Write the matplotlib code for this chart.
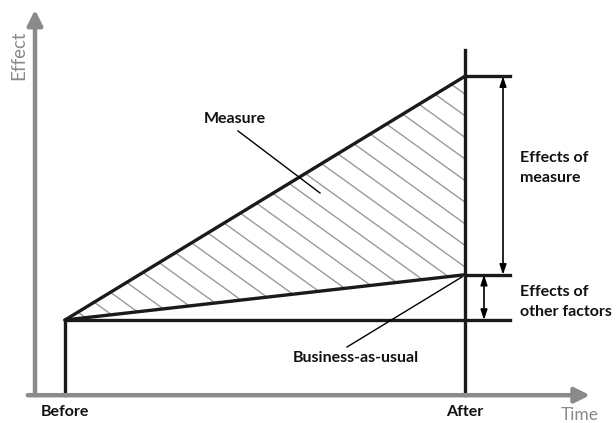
import numpy as np
import matplotlib
matplotlib.use("Agg")
import matplotlib.pyplot as plt
from matplotlib.patches import Polygon

# conceptual values: time 0 = Before, 1 = After
time_pos = [0.0, 1.0]
time_labels = ["Before", "After"]
baseline = [1.0, 1.0]
business_as_usual = [1.0, 1.62]
measure = [1.0, 4.34]
after_top = 4.70
bracket_end = 1.1125

GRAY = "#8a8a8a"
FONT = "Lato"

fig = plt.figure(figsize=(6.16, 4.23), dpi=100)
ax = fig.add_axes([0, 0, 1, 1])
ax.set_xlim(-0.1625, 1.3775)
ax.set_ylim(-0.411, 5.384)
ax.axis("off")

# gray axes with arrow heads
ax.annotate("", xy=(-0.075, 5.25), xytext=(-0.075, -0.03),
            arrowprops=dict(arrowstyle="-|>,head_length=0.9,head_width=0.45",
                            color=GRAY, lw=3.2, shrinkA=0, shrinkB=0))
ax.annotate("", xy=(1.3125, -0.03), xytext=(-0.093, -0.03),
            arrowprops=dict(arrowstyle="-|>,head_length=0.9,head_width=0.45",
                            color=GRAY, lw=3.2, shrinkA=0, shrinkB=0))
ax.text(-0.115, 4.63, "Effect", rotation=90, color=GRAY, fontsize=13.5,
        family=FONT, ha="center", va="center")
ax.text(1.2875, -0.3, "Time", color=GRAY, fontsize=12.5, family=FONT,
        ha="center", va="center")

# hatched area between measure and business-as-usual
poly = Polygon([(time_pos[0], measure[0]), (time_pos[1], measure[1]),
                (time_pos[1], business_as_usual[1])], closed=True,
               facecolor="none", edgecolor="none")
ax.add_patch(poly)
k = -3.95
tt = np.array([-0.1, 1.1])
for b in np.arange(5.676 - 0.296 * 20, 5.676 + 0.296 * 10, 0.296):
    ln, = ax.plot(tt, b + k * tt, color="#9a9a9a", lw=1.0)
    ln.set_clip_path(poly)

# main lines
lw = 2.4
ax.plot(time_pos, measure, color="#1a1a1a", lw=lw, solid_capstyle="round")
ax.plot(time_pos, business_as_usual, color="#1a1a1a", lw=lw, solid_capstyle="round")
ax.plot([time_pos[0], bracket_end], baseline, color="#1a1a1a", lw=lw)
ax.plot([time_pos[0], time_pos[0]], [-0.03, baseline[0]], color="#1a1a1a", lw=lw)
ax.plot([time_pos[1], time_pos[1]], [-0.03, after_top], color="#1a1a1a", lw=lw)
ax.plot([time_pos[1], bracket_end], [measure[1]] * 2, color="#1a1a1a", lw=lw)
ax.plot([time_pos[1], bracket_end], [business_as_usual[1]] * 2, color="#1a1a1a", lw=lw)

# double arrows
ax.annotate("", xy=(1.095, measure[1]), xytext=(1.095, business_as_usual[1]),
            arrowprops=dict(arrowstyle="<|-|>,head_length=0.6,head_width=0.2",
                            color="black", lw=1.2, shrinkA=0, shrinkB=0))
ax.annotate("", xy=(1.0475, business_as_usual[1]), xytext=(1.0475, baseline[1]),
            arrowprops=dict(arrowstyle="<|-|>,head_length=0.6,head_width=0.2",
                            color="black", lw=1.2, shrinkA=0, shrinkB=0))

# labels
bold = dict(fontsize=11.5, family=FONT, fontweight="bold", color="#111111")
ax.text(0.425, 3.76, "Measure", ha="center", va="center", **bold)
ax.plot([0.4325, 0.6375], [3.59, 2.74], color="black", lw=1.0)
ax.text(0.7275, 0.48, "Business-as-usual", ha="center", va="center", **bold)
ax.plot([0.705, 0.9925], [0.63, 1.59], color="black", lw=1.0)
ax.text(1.1375, 3.08, "Effects of\nmeasure", ha="left", va="center",
        linespacing=1.5, **bold)
ax.text(1.1375, 1.25, "Effects of\nother factors", ha="left", va="center",
        linespacing=1.5, **bold)
for t, lab in zip(time_pos, time_labels):
    ax.text(t, -0.26, lab, ha="center", va="center", **bold)

fig.savefig("out.png", dpi=100)
